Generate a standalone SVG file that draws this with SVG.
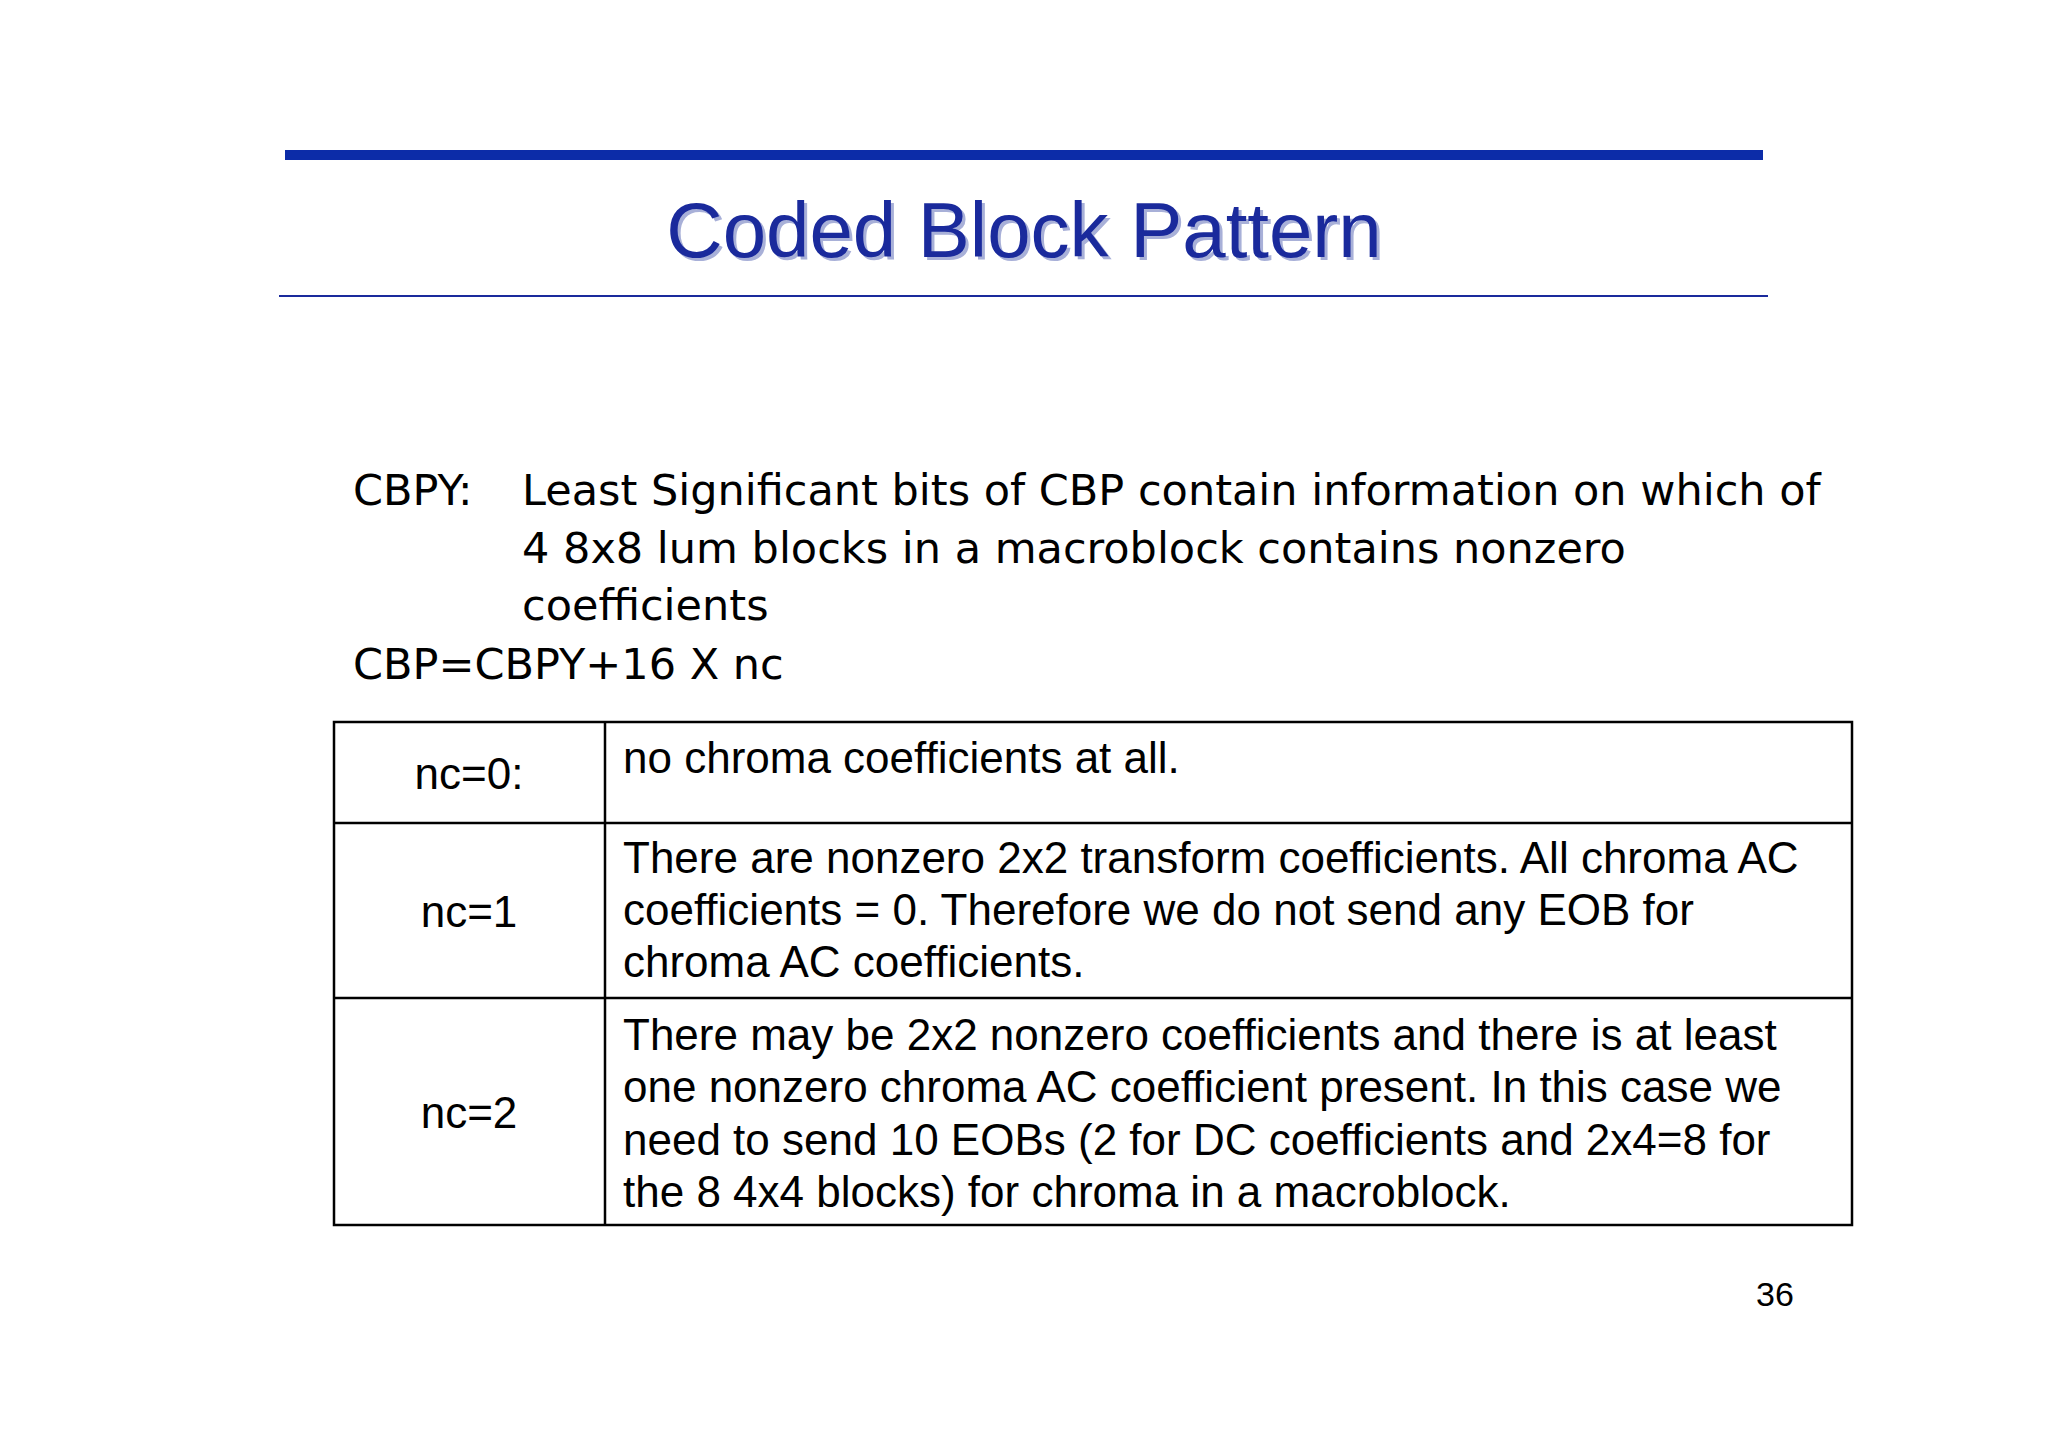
<svg xmlns="http://www.w3.org/2000/svg" width="2048" height="1447" viewBox="0 0 2048 1447">
<style>
.b{font-family:"DejaVu Sans",Verdana,sans-serif;font-size:43px;fill:#000}
.c{font-family:"Liberation Sans",Arial,sans-serif;font-size:44px;fill:#000}
.l{stroke:#000;stroke-width:2.5;fill:none}
</style>
<rect width="2048" height="1447" fill="#fff"/>
<g id="header">
<rect x="285" y="150" width="1478" height="10" fill="#0c2ca8"/>
<text x="1027" y="260" text-anchor="middle" font-family="Liberation Sans,Arial,sans-serif" font-size="78" fill="#a8b0d8">Coded Block Pattern</text>
<text x="1024" y="257" text-anchor="middle" font-family="Liberation Sans,Arial,sans-serif" font-size="78" fill="#1a2a9c">Coded Block Pattern</text>
<rect x="279" y="295" width="1489" height="2" fill="#1a2a9c"/>
</g>
<g id="body">
<text class="b" x="353" y="505">CBPY:</text>
<text class="b" x="522" y="505">Least Significant bits of CBP contain information on which of</text>
<text class="b" x="522" y="563">4 8x8 lum blocks in a macroblock contains nonzero</text>
<text class="b" x="522" y="620">coefficients</text>
<text class="b" x="353" y="679">CBP=CBPY+16 X nc</text>
</g>
<g id="table">
<rect class="l" x="334" y="722" width="1518" height="503"/>
<line class="l" x1="605" y1="722" x2="605" y2="1225"/>
<line class="l" x1="334" y1="823" x2="1852" y2="823"/>
<line class="l" x1="334" y1="998" x2="1852" y2="998"/>
<text class="c" x="469" y="789" text-anchor="middle">nc=0:</text>
<text class="c" x="469" y="927" text-anchor="middle">nc=1</text>
<text class="c" x="469" y="1128" text-anchor="middle">nc=2</text>
<text class="c" x="623" y="773">no chroma coefficients at all.</text>
<text class="c" x="623" y="873">There are nonzero 2x2 transform coefficients. All chroma AC</text>
<text class="c" x="623" y="925">coefficients = 0. Therefore we do not send any EOB for</text>
<text class="c" x="623" y="977">chroma AC coefficients.</text>
<text class="c" x="623" y="1050">There may be 2x2 nonzero coefficients and there is at least</text>
<text class="c" x="623" y="1102">one nonzero chroma AC coefficient present. In this case we</text>
<text class="c" x="623" y="1155">need to send 10 EOBs (2 for DC coefficients and 2x4=8 for</text>
<text class="c" x="623" y="1207">the 8 4x4 blocks) for chroma in a macroblock.</text>
</g>
<text x="1775" y="1306" text-anchor="middle" font-family="Liberation Sans,Arial,sans-serif" font-size="34">36</text>
</svg>
